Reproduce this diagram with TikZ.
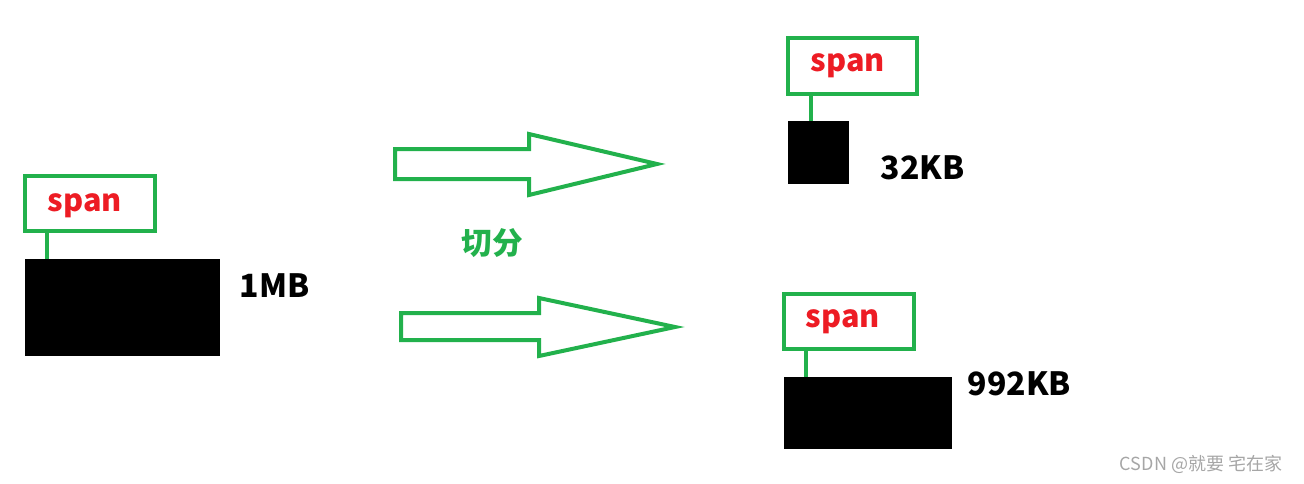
\documentclass[tikz,border=0pt]{standalone}
\usepackage{fontspec}
\setmainfont{Noto Sans CJK SC}
\usetikzlibrary{positioning, fit}
\definecolor{paintgreen}{RGB}{34,177,76}
\definecolor{paintred}{RGB}{237,28,36}
\tikzset{
    block/.style={fill=black, inner sep=0pt},
    spanbox/.style={draw=paintgreen, line width=3pt, fill=white, inner sep=0pt},
    spantext/.style={text=paintred, font=\fontsize{23}{26}\selectfont\bfseries},
    sizetext/.style={text=black, font=\fontsize{24}{27}\selectfont\bfseries, anchor=west},
    tie/.style={draw=paintgreen, line width=3pt},
    bigarrow/.style={draw=paintgreen, line width=3pt, line join=miter}
}

\begin{document}
\begin{tikzpicture}[x=0.75pt, y=-0.75pt]
    \useasboundingbox (0,0) rectangle (1304,483);

    % Whole buffer (left)
    \node[spanbox, fit={(25,176) (155,231)}] (span1) {};
    \node[spantext] (spanlbl1) at (85,206) {span};
    \node[block, fit={(25,259) (220,356)}] (blk1) {};
    \node[sizetext] (size1) at (235,286) {1MB};
    \draw[tie] ([xshift=18pt]span1.south west) -- ([xshift=18pt]span1.south west |- blk1.north);

    % Block arrows
    \draw[bigarrow] (395,149) -- (529,149) -- (529,134) -- (657,164) -- (529,195) -- (529,179) -- (395,179) -- cycle;
    \draw[bigarrow] (401,313) -- (539,313) -- (539,298) -- (675,327) -- (539,356) -- (539,340) -- (401,340) -- cycle;
    \node[text=paintgreen, font=\fontsize{23}{26}\selectfont\bfseries] (cut) at (492,243) {切分};

    % Small piece (top right)
    \node[spanbox, fit={(788,38) (917,94)}] (span2) {};
    \node[spantext] (spanlbl2) at (848,66) {span};
    \node[block, fit={(788,121) (849,184)}] (blk2) {};
    \node[sizetext] (size2) at (876,168) {32KB};
    \draw[tie] ([xshift=18.75pt]span2.south west) -- ([xshift=18.75pt]span2.south west |- blk2.north);

    % Remaining piece (bottom right)
    \node[spanbox, fit={(784,294) (914,349)}] (span3) {};
    \node[spantext] (spanlbl3) at (843,322) {span};
    \node[block, fit={(784,377) (952,449)}] (blk3) {};
    \node[sizetext] (size3) at (963,384) {992KB};
    \draw[tie] ([xshift=18pt]span3.south west) -- ([xshift=18pt]span3.south west |- blk3.north);

    % Watermark
    \node[text=black!35, font=\fontsize{13.5}{15}\selectfont] (mark) at (1201,464) {CSDN @就要 宅在家};
\end{tikzpicture}
\end{document}
